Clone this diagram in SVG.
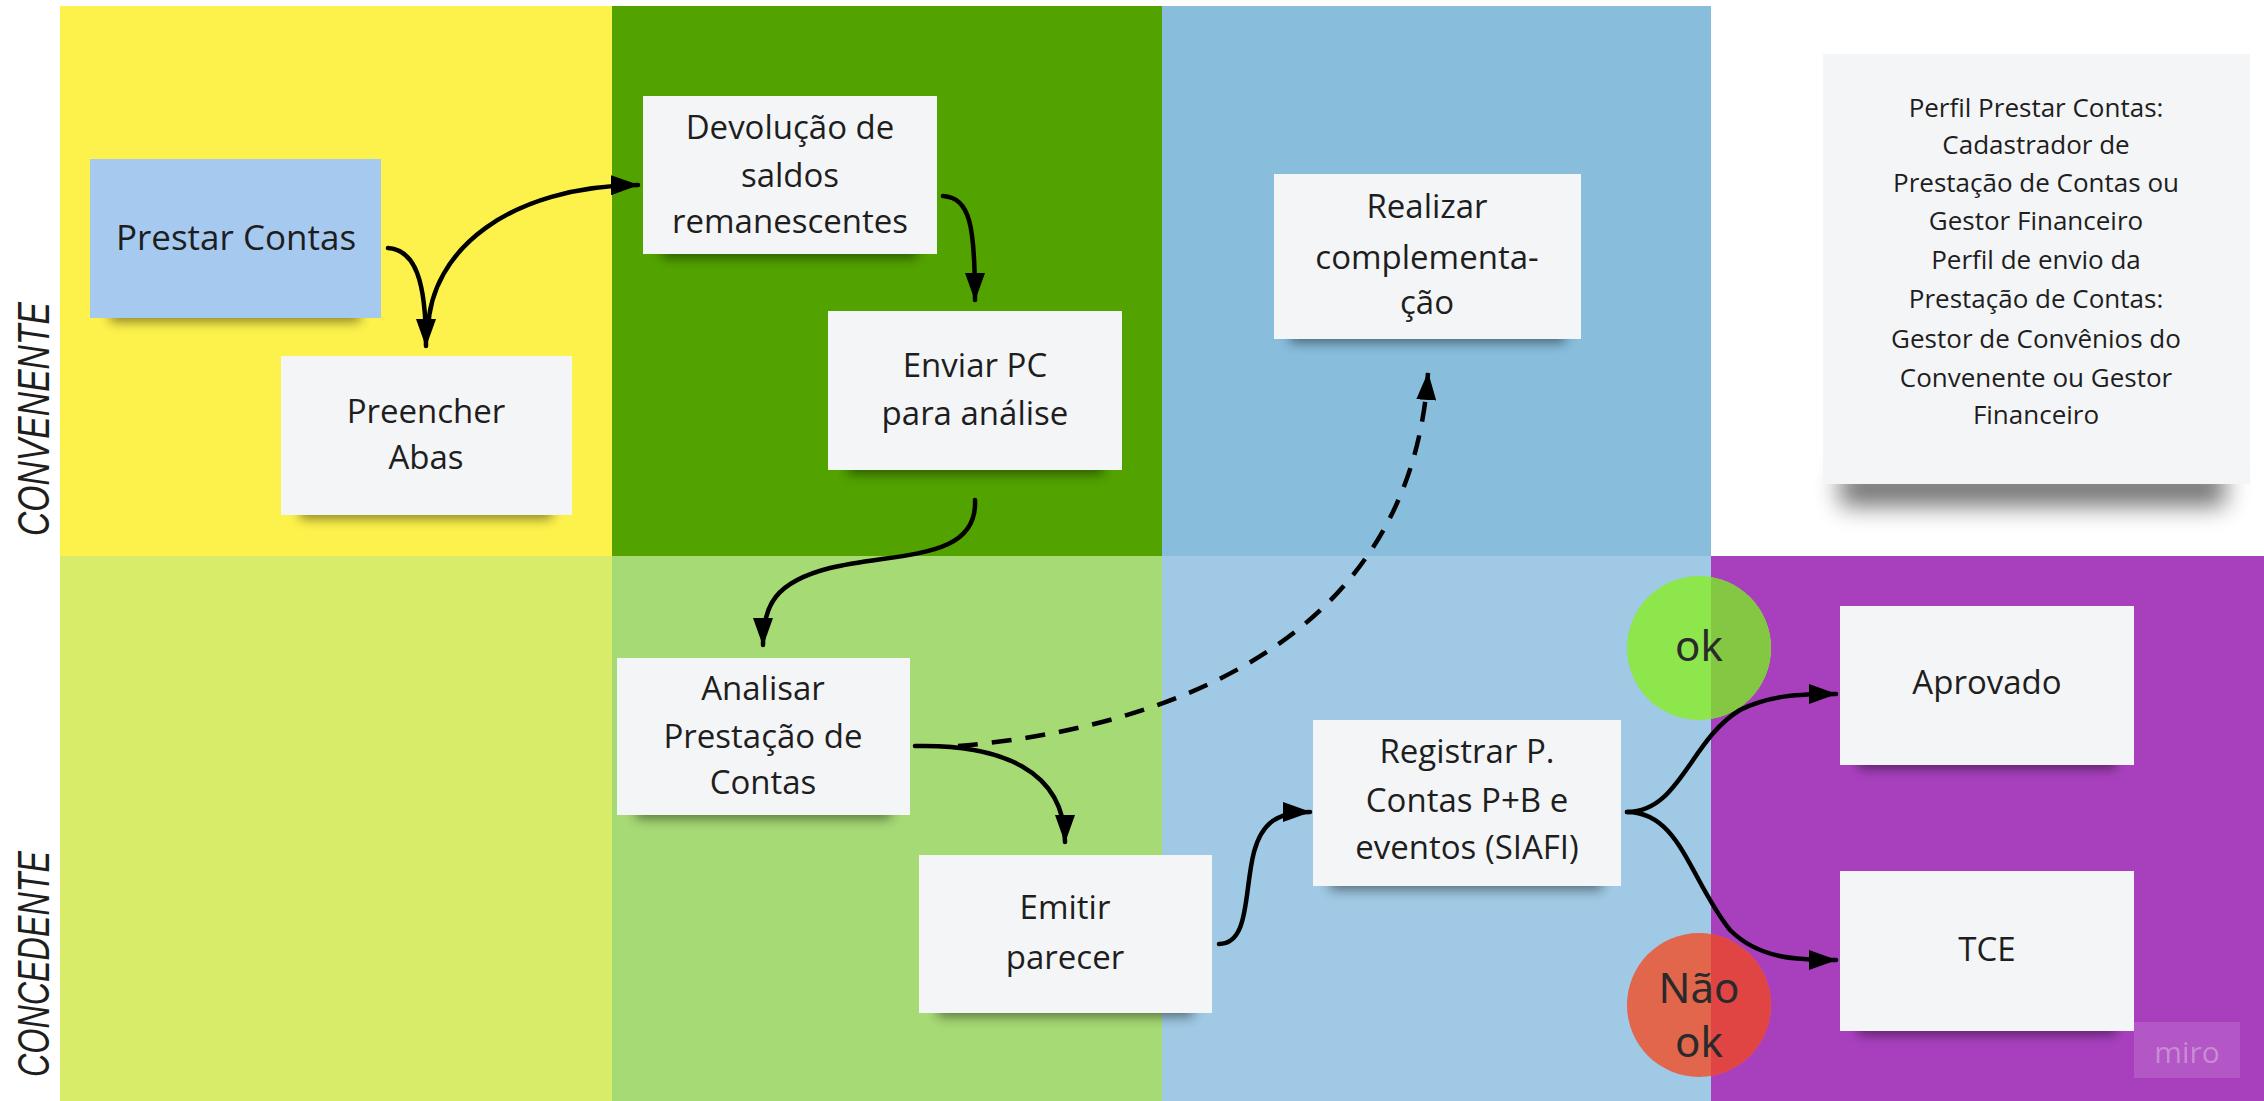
<svg xmlns="http://www.w3.org/2000/svg" width="2264" height="1101" viewBox="0 0 2264 1101">
<defs>
<style>
.t{font-family:"Open Sans","Liberation Sans",sans-serif;font-size:33px;fill:#1e1e1e;text-anchor:middle;dominant-baseline:central}
.n{font-family:"Open Sans","Liberation Sans",sans-serif;font-size:26px;fill:#1e1e1e;text-anchor:middle;dominant-baseline:central}
.lane{font-family:"Liberation Sans",sans-serif;font-style:italic;font-size:44px;fill:#1e1e1e;text-anchor:middle;dominant-baseline:central}
.c{font-family:"Noto Sans","Open Sans",sans-serif;font-size:42px;fill:#2a2a2a;text-anchor:middle;dominant-baseline:central}
.sticky{fill:#f4f5f7}
.shadow{fill:#000;opacity:.45;filter:url(#blur)}
.arr{fill:none;stroke:#000;stroke-width:4.5;stroke-linecap:round}
.dash{fill:none;stroke:#000;stroke-width:4.5;stroke-dasharray:20 14}
</style>
<filter id="blur" x="-20%" y="-200%" width="140%" height="500%"><feGaussianBlur stdDeviation="6"/></filter>
<filter id="blur2" x="-20%" y="-200%" width="140%" height="500%"><feGaussianBlur stdDeviation="12"/></filter>
<marker id="ah" viewBox="0 0 28 20" refX="27" refY="10" markerWidth="28" markerHeight="20" markerUnits="userSpaceOnUse" orient="auto">
<path d="M0,0 L28,10 L0,20 z" fill="#000"/>
</marker>
<clipPath id="okc"><circle cx="1699" cy="648" r="72"/></clipPath>
<clipPath id="nokc"><circle cx="1699" cy="1005" r="72"/></clipPath>
</defs>
<rect width="2264" height="1101" fill="#ffffff"/>
<g id="lanes">
<rect x="60" y="6" width="552" height="550" fill="#fdf24b"/>
<rect x="612" y="6" width="550" height="550" fill="#52a200"/>
<rect x="1162" y="6" width="549" height="550" fill="#88bddc"/>
<rect x="60" y="556" width="552" height="545" fill="#d8ec6a"/>
<rect x="612" y="556" width="550" height="545" fill="#a6da75"/>
<rect x="1162" y="556" width="549" height="545" fill="#9fc9e4"/>
<rect x="1711" y="556" width="553" height="545" fill="#a840be"/>
<text class="lane" transform="translate(33 419) rotate(-90)" textLength="234" lengthAdjust="spacingAndGlyphs">CONVENENTE</text>
<text class="lane" transform="translate(33 964) rotate(-90)" textLength="226" lengthAdjust="spacingAndGlyphs">CONCEDENTE</text>
</g>
<g id="n-prestar">
<rect class="shadow" x="110" y="300" width="250" height="22"/>
<rect x="90" y="159" width="291" height="159" fill="#a6c9ef"/>
<text class="t" x="236" y="236" style="font-size:35px">Prestar Contas</text>
</g>
<g id="n-preencher">
<rect class="shadow" x="300" y="497" width="252" height="22"/>
<rect class="sticky" x="281" y="356" width="291" height="159"/>
<text class="t" x="426" y="410">Preencher</text>
<text class="t" x="426" y="456">Abas</text>
</g>
<g id="n-devolucao">
<rect class="shadow" x="662" y="236" width="255" height="22"/>
<rect class="sticky" x="643" y="96" width="294" height="158"/>
<text class="t" x="790" y="126">Devolução de</text>
<text class="t" x="790" y="174">saldos</text>
<text class="t" x="790" y="220">remanescentes</text>
</g>
<g id="n-enviar">
<rect class="shadow" x="848" y="452" width="255" height="22"/>
<rect class="sticky" x="828" y="311" width="294" height="159"/>
<text class="t" x="975" y="364">Enviar PC</text>
<text class="t" x="975" y="412">para análise</text>
</g>
<g id="n-realizar">
<rect class="shadow" x="1290" y="321" width="275" height="22"/>
<rect class="sticky" x="1274" y="174" width="307" height="165"/>
<text class="t" x="1427" y="205">Realizar</text>
<text class="t" x="1427" y="256">complementa-</text>
<text class="t" x="1427" y="301">ção</text>
</g>
<g id="n-nota">
<rect x="1840" y="470" width="385" height="36" fill="#000" opacity=".55" filter="url(#blur2)"/>
<rect class="sticky" x="1823" y="54" width="427" height="430"/>
<text class="n" x="2036" y="107">Perfil Prestar Contas:</text>
<text class="n" x="2036" y="144">Cadastrador de</text>
<text class="n" x="2036" y="182">Prestação de Contas ou</text>
<text class="n" x="2036" y="220">Gestor Financeiro</text>
<text class="n" x="2036" y="259">Perfil de envio da</text>
<text class="n" x="2036" y="298">Prestação de Contas:</text>
<text class="n" x="2036" y="338">Gestor de Convênios do</text>
<text class="n" x="2036" y="377">Convenente ou Gestor</text>
<text class="n" x="2036" y="414">Financeiro</text>
</g>
<g id="n-analisar">
<rect class="shadow" x="636" y="797" width="255" height="22"/>
<rect class="sticky" x="617" y="658" width="293" height="157"/>
<text class="t" x="763" y="687">Analisar</text>
<text class="t" x="763" y="735">Prestação de</text>
<text class="t" x="763" y="781">Contas</text>
</g>
<g id="n-emitir">
<rect class="shadow" x="938" y="995" width="255" height="22"/>
<rect class="sticky" x="919" y="855" width="293" height="158"/>
<text class="t" x="1065" y="906">Emitir</text>
<text class="t" x="1065" y="956">parecer</text>
</g>
<g id="n-registrar">
<rect class="shadow" x="1330" y="868" width="272" height="22"/>
<rect class="sticky" x="1313" y="720" width="308" height="166"/>
<text class="t" x="1467" y="750">Registrar P.</text>
<text class="t" x="1467" y="799">Contas P+B e</text>
<text class="t" x="1467" y="846">eventos (SIAFI)</text>
</g>
<g id="n-aprovado">
<rect class="shadow" x="1858" y="747" width="258" height="22"/>
<rect class="sticky" x="1840" y="606" width="294" height="159"/>
<text class="t" x="1987" y="681">Aprovado</text>
</g>
<g id="n-tce">
<rect class="shadow" x="1858" y="1013" width="258" height="22"/>
<rect class="sticky" x="1840" y="871" width="294" height="160"/>
<text class="t" x="1987" y="948">TCE</text>
</g>
<g id="n-ok">
<circle cx="1699" cy="648" r="72" fill="#8de64b"/>
<rect x="1711" y="570" width="70" height="160" fill="#84c742" clip-path="url(#okc)"/>
<text class="c" x="1699" y="644">ok</text>
</g>
<g id="n-naook">
<circle cx="1699" cy="1005" r="72" fill="#e1664c"/>
<rect x="1711" y="930" width="70" height="160" fill="#e04544" clip-path="url(#nokc)"/>
<text class="c" x="1699" y="986">Não</text>
<text class="c" x="1699" y="1040">ok</text>
</g>
<g id="miro">
<rect x="2134" y="1022" width="106" height="56" fill="#ffffff" opacity=".12"/>
<text x="2187" y="1051" style="font-family:'Open Sans','Liberation Sans',sans-serif;font-size:30px;fill:#ffffff;opacity:.3;text-anchor:middle;dominant-baseline:central">miro</text>
</g>
<g id="connectors">
<path class="arr" d="M388 248 C415 250 426 280 426 346" marker-end="url(#ah)"/>
<path class="arr" d="M428 330 C430 250 510 186 638 185" marker-end="url(#ah)"/>
<path class="arr" d="M943 196 C970 198 975 225 975 300" marker-end="url(#ah)"/>
<path class="arr" d="M975 500 C978 560 900 552 830 568 C775 582 763 605 763 645" marker-end="url(#ah)"/>
<path class="arr" d="M915 746 C1000 744 1065 770 1065 842" marker-end="url(#ah)"/>
<path class="dash" d="M958 746 C1150 730 1410 650 1428 373" marker-end="url(#ah)"/>
<path class="arr" d="M1219 944 C1250 944 1244 890 1254 852 C1262 822 1278 812 1310 812" marker-end="url(#ah)"/>
<path class="arr" d="M1627 812 C1680 812 1690 740 1740 710 C1770 695 1800 694 1836 694" marker-end="url(#ah)"/>
<path class="arr" d="M1627 812 C1680 812 1690 880 1730 930 C1760 960 1800 960 1836 960" marker-end="url(#ah)"/>
</g>
</svg>
